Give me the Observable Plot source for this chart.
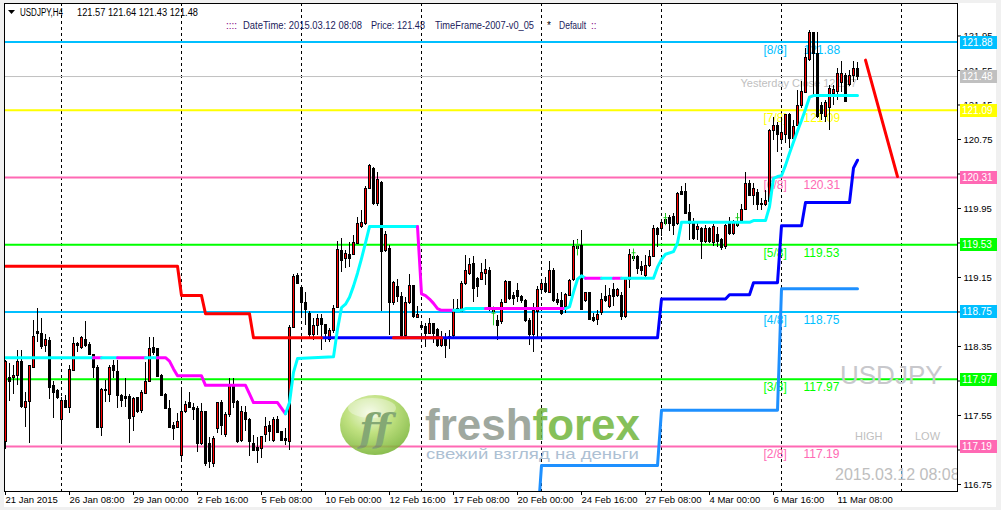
<!DOCTYPE html>
<html><head><meta charset="utf-8">
<script src="https://cdn.jsdelivr.net/npm/d3@7"></script>
<script src="https://cdn.jsdelivr.net/npm/@observablehq/plot@0.6"></script>
<style>
html,body{margin:0;padding:0;background:#f0f0f0;}
#chart{width:1001px;height:510px;overflow:hidden;}
svg{display:block}
</style></head><body><div id="chart"></div>
<script>
// ---- H4 candles (bar index 0 = first bar on the left) ----
const candleOpen = [117.24,117.98,117.98,118.01,118.17,117.64,117.71,118.10,118.52,118.50,
118.35,118.41,117.89,117.83,117.50,117.72,117.64,118.07,118.38,118.33,
118.43,118.37,118.25,118.10,117.41,117.85,117.79,118.12,118.06,117.78,
117.77,117.77,117.53,117.75,117.60,117.80,117.94,118.33,118.32,118.01,
117.79,117.62,117.43,117.40,117.08,117.59,117.69,117.64,117.63,117.22,
117.59,117.22,116.99,117.39,117.69,117.32,117.55,117.90,117.71,117.25,
117.58,117.50,117.22,117.17,117.16,117.32,117.43,117.26,117.50,117.36,
117.28,117.24,118.57,119.17,119.03,118.86,118.73,118.48,118.59,118.67,
118.60,118.42,118.53,118.80,119.46,119.36,119.41,119.41,119.54,119.73,
119.77,120.18,120.41,120.00,120.25,119.46,119.48,118.85,119.04,118.92,
118.47,118.85,119.05,118.68,118.59,118.58,118.50,118.61,118.54,118.35,
118.45,118.46,118.47,118.79,118.75,119.07,119.19,119.31,119.13,119.12,
119.19,119.23,118.78,118.65,118.63,118.86,119.10,118.93,118.99,118.92,
118.88,118.65,118.48,118.75,119.01,119.08,118.97,119.23,118.89,118.88,
118.81,118.94,119.12,119.48,119.51,118.88,118.97,118.68,118.66,118.74,
118.92,118.81,119.00,118.93,118.94,118.69,119.12,119.39,119.39,119.27,
119.17,119.28,119.39,119.71,119.71,119.77,119.84,119.85,119.77,120.14,
120.14,119.90,119.77,119.70,119.71,119.56,119.71,119.55,119.64,119.58,
119.50,119.77,119.66,119.79,119.80,119.93,120.23,120.10,120.13,120.00,
119.99,120.02,120.85,120.91,120.74,120.80,121.03,120.76,120.91,121.14,
121.29,121.67,121.98,121.74,121.14,121.01,121.11,121.28,121.30,121.40,
121.49,121.38,121.49,121.57];
const candleHigh = [118.19,118.15,118.13,118.30,118.30,117.82,118.12,118.65,118.79,118.68,
118.49,118.45,117.94,117.85,117.76,117.78,118.13,118.46,118.40,118.47,
118.64,118.40,118.25,118.13,117.86,117.96,118.13,118.19,118.19,117.79,
117.98,117.79,117.76,117.76,117.84,118.17,118.45,118.46,118.33,118.02,
117.80,117.72,117.47,117.57,117.87,117.71,117.82,117.69,117.65,117.69,
117.60,117.30,117.31,117.70,117.72,117.59,117.98,117.98,117.72,117.65,
117.65,117.51,117.32,117.30,117.31,117.53,117.48,117.53,117.54,117.36,
117.40,118.59,119.19,119.20,119.05,118.98,118.75,118.67,118.72,118.72,
118.61,118.56,118.83,119.57,119.60,119.46,119.56,119.64,119.85,119.93,
120.20,120.46,120.43,120.37,120.26,119.68,119.52,119.10,119.13,118.98,
118.92,119.19,119.05,118.81,118.61,118.62,118.67,118.62,118.56,118.52,
118.50,118.54,118.90,118.90,119.10,119.41,119.37,119.39,119.15,119.31,
119.36,119.27,118.80,118.71,118.90,119.12,119.10,118.98,119.08,118.94,
118.90,118.67,118.85,119.04,119.12,119.15,119.33,119.25,118.96,118.98,
118.97,119.13,119.58,119.59,119.70,118.98,118.98,118.73,118.77,118.96,
119.06,119.02,119.08,119.02,118.98,119.13,119.47,119.42,119.41,119.33,
119.41,119.46,119.75,119.73,119.81,119.89,119.87,119.89,120.14,120.20,
120.24,120.00,119.83,119.79,119.73,119.75,119.73,119.77,119.73,119.60,
119.77,119.84,119.81,119.89,120.00,120.37,120.28,120.24,120.17,120.07,
120.16,120.87,121.01,120.95,121.01,121.03,121.05,120.97,121.32,121.42,
121.80,122.01,121.99,121.99,121.18,121.20,121.38,121.38,121.57,121.65,
121.51,121.55,121.65,121.64];
const candleLow = [117.16,117.71,117.79,117.90,117.63,117.41,117.22,118.09,118.40,118.32,
118.28,117.74,117.51,117.74,117.21,117.63,117.57,118.07,118.28,118.32,
118.34,118.24,117.98,117.40,117.31,117.70,117.70,117.98,117.63,117.64,
117.64,117.23,117.36,117.57,117.57,117.80,117.93,118.25,117.99,117.78,
117.62,117.41,117.26,117.40,117.04,117.57,117.63,117.49,117.12,117.20,
116.96,116.93,116.95,117.34,117.32,117.30,117.53,117.63,117.23,117.24,
117.36,117.07,117.13,116.99,117.05,117.24,117.25,117.24,117.34,117.25,
117.20,117.14,118.56,119.08,118.71,118.59,118.46,118.42,118.48,118.30,
118.40,118.40,118.50,118.79,119.21,119.25,119.27,119.41,119.53,119.72,
119.75,120.18,119.99,119.97,118.75,119.44,118.48,118.83,118.86,118.46,
118.46,118.84,118.68,118.67,118.54,118.34,118.49,118.38,118.34,118.34,
118.21,118.32,118.44,118.75,118.74,119.06,119.17,118.86,118.92,119.12,
119.06,118.75,118.73,118.42,118.61,118.85,118.88,118.83,118.86,118.85,
118.63,118.36,118.28,118.46,118.96,118.96,118.96,118.86,118.83,118.71,
118.73,118.93,119.10,119.46,118.77,118.86,118.65,118.63,118.59,118.71,
118.86,118.79,118.81,118.92,118.65,118.67,119.02,119.33,119.19,119.17,
119.15,119.27,119.38,119.50,119.62,119.75,119.68,119.64,119.75,120.10,
119.88,119.58,119.58,119.58,119.36,119.54,119.54,119.51,119.50,119.46,
119.48,119.64,119.64,119.73,119.79,119.93,120.09,119.98,119.93,119.93,
119.97,119.99,120.74,120.60,120.72,120.70,120.64,120.74,120.90,121.11,
121.28,121.65,121.26,120.99,120.97,120.95,120.85,121.14,121.20,121.30,
121.18,121.36,121.41,121.43];
const candleClose = [118.17,117.94,118.01,118.17,117.65,117.71,118.12,118.46,118.49,118.34,
118.42,117.87,117.81,117.75,117.72,117.64,118.08,118.38,118.35,118.45,
118.35,118.25,118.10,117.41,117.85,117.83,118.10,118.07,117.78,117.72,
117.74,117.51,117.74,117.59,117.81,117.94,118.32,118.27,118.00,117.78,
117.63,117.41,117.39,117.48,117.59,117.67,117.64,117.61,117.22,117.59,
116.99,117.01,117.28,117.69,117.43,117.55,117.90,117.70,117.24,117.59,
117.50,117.24,117.14,117.14,117.30,117.42,117.36,117.50,117.35,117.26,
117.25,118.57,119.15,119.08,118.86,118.77,118.48,118.59,118.67,118.60,
118.50,118.53,118.79,119.47,119.34,119.42,119.37,119.55,119.77,119.78,
120.18,120.44,120.00,120.28,119.44,119.64,118.85,119.09,118.92,118.47,
118.86,119.05,118.69,118.71,118.56,118.50,118.61,118.50,118.35,118.45,
118.35,118.44,118.75,118.76,119.08,119.23,119.29,119.02,119.04,119.20,
119.24,118.77,118.75,118.59,118.86,119.10,118.90,118.90,118.92,118.88,
118.65,118.48,118.76,119.01,119.07,118.98,119.23,118.88,118.85,118.73,
118.95,119.11,119.50,119.52,118.77,118.97,118.66,118.64,118.71,118.89,
118.88,118.93,118.92,119.00,118.69,119.13,119.41,119.36,119.25,119.23,
119.28,119.39,119.71,119.64,119.78,119.82,119.77,119.75,120.12,120.11,
119.89,119.77,119.60,119.73,119.56,119.71,119.56,119.73,119.56,119.49,
119.75,119.65,119.78,119.75,119.93,120.23,120.10,120.18,119.99,119.99,
120.04,120.85,120.91,120.80,120.82,121.03,120.76,120.89,121.14,121.30,
121.69,121.98,121.74,121.01,121.05,121.17,121.34,121.32,121.51,121.51,
121.18,121.49,121.57,121.48];

// ---- Murrey levels ----
const levelValues = [121.88, 121.09, 120.31, 119.53, 118.75, 117.97, 117.19];
const levelTags = ["[8/8]","[7/8]","[6/8]","[5/8]","[4/8]","[3/8]","[2/8]"];
const levelColors = ["#00BFFF","#FFFF00","#FF69B4","#00FF00","#00BFFF","#00FF00","#FF69B4"];
const bidPrice = 121.48;
const yesterdayClose = 121.47;

// ---- axes ----
const priceTicks = [116.75,117.15,117.55,117.95,118.35,118.75,119.15,119.55,119.95,120.35,120.75,121.15,121.55,121.95];
const timeTickBars = [0,16,32,48,64,80,96,112,128,144,160,176,192,208];
const timeTickLabels = ["21 Jan 2015","26 Jan 08:00","29 Jan 00:00","2 Feb 16:00","5 Feb 08:00","10 Feb 00:00","12 Feb 16:00","17 Feb 08:00","20 Feb 00:00","24 Feb 16:00","27 Feb 08:00","4 Mar 00:00","6 Mar 16:00","11 Mar 08:00"];
const weekStartBars = [14,44,74,104,134,164,194,224];

// ---- indicator lines [bar, value] ----
const redLineA = [[0,119.28],[43,119.28],[44,118.94],[49,118.94],[50,118.73],[61,118.73],[62,118.45],[79,118.45]];
const redLineB = [[97,118.45],[109,118.45]];
const blueLine = [[79,118.45],[163,118.45],[164,118.90],[180,118.90],[181,118.95],[186,118.95],[187,119.09],[193,119.09],[194,119.75],[199,119.75],[200,120.02],[211,120.02],[212,120.42],[213,120.51]];
const dodgerLine = [[133,116.30],[134,116.97],[163,116.97],[164,117.61],[193,117.61],[194,119.02],[213,119.02]];
// stop line: [bar, value, colour of the following segment] c = up (aqua), m = down (magenta)
const stopLine = [[0,118.22,"c"],[22,118.22,"m"],[24,118.22,"c"],[28,118.22,"m"],[35,118.22,"c"],[38,118.22,"m"],[40,118.22,"m"],[41,118.18,"m"],[42,118.09,"m"],[43,118.01,"m"],[49,118.01,"m"],[50,117.90,"m"],[60,117.90,"m"],[61,117.80,"m"],[62,117.70,"m"],[68,117.70,"m"],[70,117.57,"c"],[71,117.70,"c"],[72,118.05,"c"],[73,118.21,"c"],[82,118.23,"c"],[83,118.55,"c"],[84,118.80,"c"],[85,118.84,"c"],[86,118.92,"c"],[87,119.05,"c"],[88,119.20,"c"],[89,119.37,"c"],[90,119.55,"c"],[91,119.74,"c"],[103,119.74,"m"],[104,118.96,"m"],[105,118.94,"m"],[106,118.90,"m"],[107,118.85,"m"],[108,118.79,"m"],[109,118.77,"m"],[112,118.77,"c"],[114,118.77,"c"],[115,118.79,"c"],[120,118.79,"m"],[140,118.79,"c"],[141,118.81,"c"],[142,118.98,"c"],[143,119.13,"c"],[144,119.17,"c"],[145,119.14,"m"],[149,119.14,"c"],[152,119.14,"m"],[154,119.14,"c"],[162,119.14,"c"],[163,119.27,"c"],[164,119.36,"c"],[165,119.42,"c"],[167,119.45,"c"],[168,119.55,"c"],[169,119.79,"c"],[186,119.79,"c"],[187,119.81,"c"],[190,119.81,"c"],[191,119.97,"c"],[192,120.30,"c"],[193,120.32,"c"],[194,120.33,"c"],[195,120.45,"c"],[196,120.59,"c"],[197,120.72,"c"],[198,120.85,"c"],[199,120.97,"c"],[200,121.10,"c"],[201,121.24,"c"],[202,121.26,"c"],[213,121.26,"c"]];
const trendLine = [[215,121.67],[223,120.32]];
const signalBars = [122,143,157,165,183];
const signalTop = [118.81,119.58,119.48,119.89,119.89];
const signalBottom = [118.59,119.40,119.35,119.75,119.75];

// ---- build tables ----
const candles = candleOpen.map((o,i)=>({i,o,h:candleHigh[i],l:candleLow[i],c:candleClose[i]}));
const levels = levelValues.map((v,k)=>({v,tag:levelTags[k],color:levelColors[k]}));
const stopColors = {c:"#00FFFF", m:"#FF00FF"};
const stopRows = [];
{ let g=-1, prev=null;
  for (let k=0;k<stopLine.length-1;k++){
    const col=stopLine[k][2];
    if(col!==prev){g++;stopRows.push({b:stopLine[k][0],v:stopLine[k][1],g,col:stopColors[col]});prev=col;}
    stopRows.push({b:stopLine[k+1][0],v:stopLine[k+1][1],g,col:stopColors[col]});
  } }
const signals = signalBars.map((b,k)=>({b,t:signalTop[k],bt:signalBottom[k]}));
const fnt = "'Liberation Sans', Arial, sans-serif";

const chart = Plot.plot({
  width:1001, height:510,
  marginLeft:4, marginRight:44, marginTop:3, marginBottom:19,
  x:{type:"linear", domain:[-0.25,238]},
  y:{type:"linear", domain:[116.6688,122.3268]},
  style:{fontFamily:fnt, background:"transparent", color:"#000"},
  marks:[
    Plot.ruleX(weekStartBars,{x:d=>d, stroke:"#000", strokeDasharray:"3,3", shapeRendering:"crispEdges"}),
    Plot.ruleY(levels,{y:"v", stroke:"color", strokeWidth:2}),
    Plot.ruleY([bidPrice],{y:d=>d, stroke:"#C0C0C0"}),
    Plot.text(levels,{x:()=>189.5, y:"v", text:"tag", fill:"color", dy:8, textAnchor:"start", fontSize:12}),
    Plot.text(levels,{x:()=>199.5, y:"v", text:d=>d.v.toFixed(2), fill:"color", dy:8, textAnchor:"start", fontSize:12}),
    Plot.text([yesterdayClose],{x:()=>183.75, y:d=>d, text:d=>"Yesterday Close "+d.toFixed(2), fill:"#C0C0C0", dy:6, textAnchor:"start", fontSize:11}),
    Plot.ruleX(candles,{x:"i", y1:"l", y2:"h", stroke:"#000", shapeRendering:"crispEdges"}),
    Plot.rect(candles,{x1:d=>d.i-0.25, x2:d=>d.i+0.25, y1:"o", y2:"c", fill:d=>d.c>=d.o?"#FF0000":"#000000", stroke:"#000", shapeRendering:"crispEdges"}),
    Plot.ruleX(signals,{x:"b", y1:"bt", y2:"t", stroke:"#22CC22"}),
    Plot.link(signals,{x1:d=>d.b-0.5, x2:d=>d.b+0.5, y1:d=>(d.t*2+d.bt)/3, y2:d=>(d.t*2+d.bt)/3, stroke:"#22CC22"}),
    Plot.line(blueLine,{x:d=>d[0], y:d=>d[1], stroke:"#0000FF", strokeWidth:3}),
    Plot.line(redLineA,{x:d=>d[0], y:d=>d[1], stroke:"#FF0000", strokeWidth:3}),
    Plot.line(redLineB,{x:d=>d[0], y:d=>d[1], stroke:"#FF0000", strokeWidth:3}),
    Plot.line(dodgerLine,{x:d=>d[0], y:d=>d[1], stroke:"#1E90FF", strokeWidth:3, clip:true}),
    Plot.line(stopRows,{x:"b", y:"v", z:"g", stroke:"col", strokeWidth:3}),
    Plot.line(trendLine,{x:d=>d[0], y:d=>d[1], stroke:"#FF0000", strokeWidth:3}),
    Plot.frame({stroke:"#000", shapeRendering:"crispEdges"}),
    Plot.axisY({anchor:"right", ticks:priceTicks, tickFormat:d=>d.toFixed(2), tickSize:3, tickPadding:3, fontSize:9.5, label:null}),
    Plot.axisX({anchor:"bottom", ticks:timeTickBars, tickFormat:d=>timeTickLabels[timeTickBars.indexOf(d)], tickSize:4, tickPadding:1, textAnchor:"start", fontSize:9.5, label:null})
  ]
});
document.getElementById("chart").appendChild(chart);

// ---- overlays ----
const svg = d3.select(chart);
const ys = v => chart.scale("y").apply(v);
svg.insert("rect",":first-child").attr("x",4).attr("y",3).attr("width",992).attr("height",504).attr("fill","#fff");
svg.insert("rect",":first-child").attr("width",1001).attr("height",510).attr("fill","#f0f0f0");

const defs = svg.append("defs");
defs.append("clipPath").attr("id","frameclip").append("rect").attr("x",4).attr("y",3).attr("width",953).attr("height",488);
const lg = defs.append("radialGradient").attr("id","ffg").attr("cx","42%").attr("cy","30%").attr("r","75%");
lg.append("stop").attr("offset","0").attr("stop-color","#eef8d8");
lg.append("stop").attr("offset","0.45").attr("stop-color","#b5dc6a");
lg.append("stop").attr("offset","1").attr("stop-color","#6fae2c");

// price boxes on the right axis
const boxes = levels.map(d=>({v:d.v,color:d.color})).concat([{v:bidPrice,color:"#C0C0C0"}]);
const gb = svg.append("g").attr("font-family",fnt).attr("font-size",10).attr("text-anchor","start");
boxes.forEach(d=>{
  const yy = Math.round(ys(d.v));
  gb.append("rect").attr("x",960).attr("y",yy-6).attr("width",37).attr("height",13).attr("fill",d.color);
  gb.append("text").attr("x",962).attr("y",yy+4).attr("fill","#fff").text(d.v.toFixed(2));
});

// header texts
const gh = svg.append("g").attr("font-family",fnt).attr("font-size",10).attr("text-anchor","start");
gh.append("path").attr("d","M8,10 L15,10 L11.5,14 Z").attr("fill","#000");
gh.append("text").attr("x",20).attr("y",16).attr("textLength",43).attr("lengthAdjust","spacingAndGlyphs").text("USDJPY,H4");
gh.append("text").attr("x",77).attr("y",16).attr("textLength",121).attr("lengthAdjust","spacingAndGlyphs").text("121.57 121.64 121.43 121.48");
gh.append("text").attr("x",226).attr("y",29).attr("fill","#800080").text("::::");
gh.append("text").attr("x",243).attr("y",29).attr("fill","#1c1c5c").attr("textLength",119).attr("lengthAdjust","spacingAndGlyphs").text("DateTime: 2015.03.12 08:08");
gh.append("text").attr("x",371).attr("y",29).attr("fill","#1c1c5c").attr("textLength",54).attr("lengthAdjust","spacingAndGlyphs").text("Price: 121.48");
gh.append("text").attr("x",435).attr("y",29).attr("fill","#1c1c5c").attr("textLength",99).attr("lengthAdjust","spacingAndGlyphs").text("TimeFrame-2007-v0_05");
gh.append("text").attr("x",547).attr("y",29).attr("fill","#000").text("*");
gh.append("text").attr("x",559).attr("y",29).attr("fill","#1c1c5c").attr("textLength",27).attr("lengthAdjust","spacingAndGlyphs").text("Default");
gh.append("text").attr("x",591).attr("y",29).attr("fill","#800080").text("::");

// gray chart labels
const gg = svg.append("g").attr("font-family",fnt).attr("fill","#C0C0C0").attr("text-anchor","start").attr("clip-path","url(#frameclip)");
gg.append("text").attr("x",840).attr("y",384).attr("font-size",26).attr("fill","#C8C8CC").text("USDJPY");
gg.append("text").attr("x",855).attr("y",440).attr("font-size",11).text("HIGH");
gg.append("text").attr("x",915).attr("y",440).attr("font-size",11).text("LOW");
gg.append("text").attr("x",835).attr("y",480).attr("font-size",16).attr("fill","#BEBEBE").text("2015.03.12 08:08");

// freshforex watermark
const gw = svg.append("g").attr("opacity",0.85).attr("text-anchor","start");
gw.append("ellipse").attr("cx",375).attr("cy",425).attr("rx",35).attr("ry",30).attr("fill","url(#ffg)");
gw.append("ellipse").attr("cx",372).attr("cy",408).attr("rx",24).attr("ry",10).attr("fill","#ffffff").attr("opacity",0.35);
gw.append("text").attr("x",375).attr("y",441).attr("text-anchor","middle").attr("font-family","'DejaVu Serif', serif").attr("font-style","italic").attr("font-weight","bold").attr("font-size",38).attr("fill","#6f9a5c").text("ff");
const tw = gw.append("text").attr("x",425).attr("y",440).attr("font-family",fnt).attr("font-weight","bold").attr("font-size",45).attr("textLength",215).attr("lengthAdjust","spacingAndGlyphs");
tw.append("tspan").attr("fill","#8f9a8f").text("fresh");
tw.append("tspan").attr("fill","#72b63e").text("forex");
gw.append("text").attr("x",426).attr("y",459).attr("font-family",fnt).attr("font-size",14).attr("fill","#9fb6cc").attr("textLength",213).attr("lengthAdjust","spacingAndGlyphs").text("свежий взгляд на деньги");
</script>
</body></html>
